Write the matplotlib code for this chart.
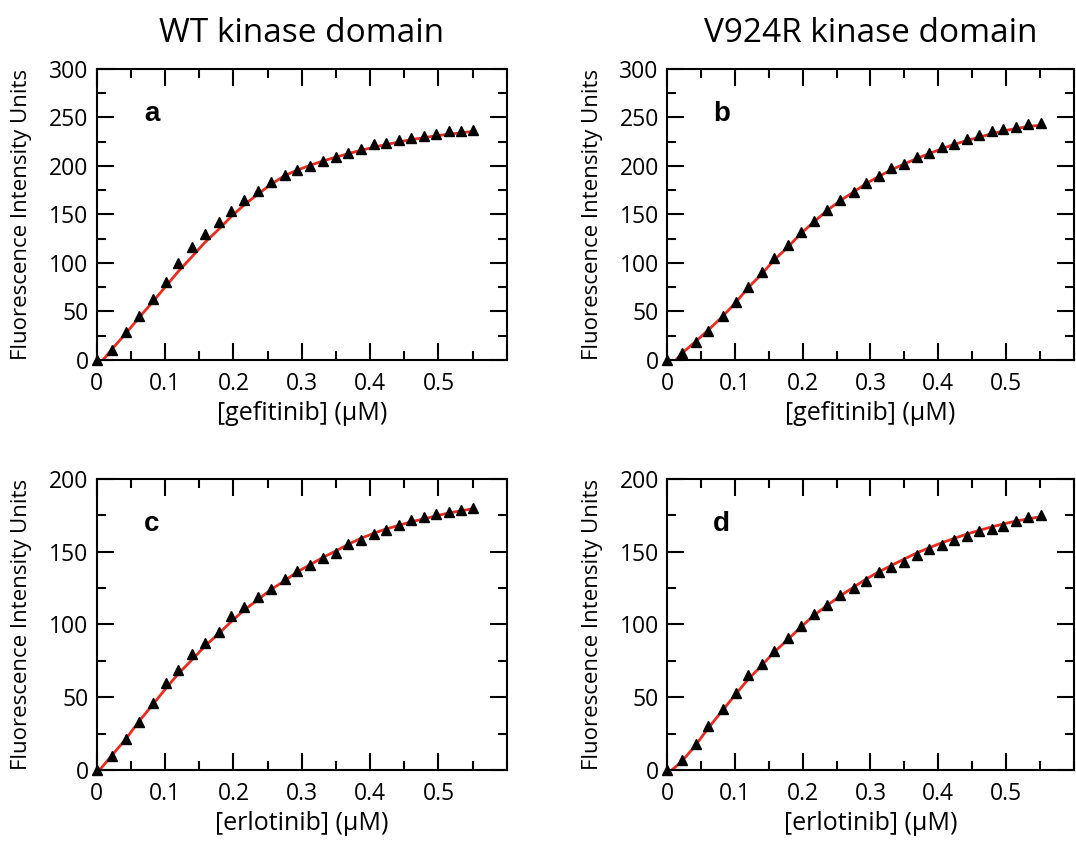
import matplotlib

matplotlib.use("Agg")
import matplotlib.pyplot as plt
from matplotlib.ticker import MultipleLocator

plt.rcParams["font.family"] = ["Open Sans", "DejaVu Sans"]

# inhibitor concentration (uM), same titration for all four panels
conc = [0.0, 0.022, 0.042, 0.061, 0.082, 0.101, 0.119, 0.140, 0.158, 0.179,
        0.197, 0.216, 0.236, 0.255, 0.275, 0.293, 0.312, 0.331, 0.350, 0.368,
        0.386, 0.405, 0.423, 0.442, 0.460, 0.479, 0.496, 0.515, 0.533, 0.551]

# measured fluorescence
wt_gef = [0, 10, 29, 45, 63, 80, 100, 116, 130, 142, 153, 165, 174, 183, 191,
          196, 200, 205, 209, 213, 217, 222, 224, 227, 229, 231, 233, 236, 236, 237]
v924r_gef = [0, 7, 18, 30, 45, 60, 75, 91, 105, 118, 132, 143, 155, 165, 173,
             182, 190, 198, 202, 209, 213, 219, 223, 228, 232, 236, 238, 240, 243, 244]
wt_erl = [0, 9.6, 21, 33, 46, 60, 69, 80, 87, 95, 105.5, 112, 119, 124.5, 131,
          136.5, 141, 145.6, 149, 155, 158, 162, 164.7, 168, 171.6, 174, 176, 177.5, 178.4, 180]
v924r_erl = [0, 6.9, 18, 30, 42, 53, 65, 73, 82, 90.6, 99, 107, 113.5, 120, 125,
             130, 136, 139.4, 143, 148, 152, 154.6, 158, 160.5, 164, 165.6, 167.4, 171, 174, 174.8]

# fitted curves (first x is where each fit starts at zero)
fit_start = [0.009, 0.013, 0.004, 0.007]
fit_wt_gef = [0, 11, 27, 43, 60, 76, 91, 107, 121, 135, 148, 160, 171, 181, 190,
              195.5, 200.5, 205, 209, 212.5, 216, 219, 222, 224.5, 227, 229, 231, 232.5, 234, 235.5]
fit_v924r_gef = [0, 7, 19, 31, 45, 59, 74, 89, 103, 117, 130, 142, 154, 164, 173,
                 181.5, 189, 196, 202, 207.5, 212.5, 217.5, 222, 226, 229.5, 233, 236, 238.5, 240.5, 242]
fit_wt_erl = [0, 10, 21, 33, 45, 56, 66, 76, 85, 94, 102, 110, 117, 124, 130,
              136, 141, 146, 150.5, 155, 159, 162.5, 165.5, 168, 170.5, 172.5, 174.5, 176.5, 178, 179.5]
fit_v924r_erl = [0, 6, 17, 29, 41, 52, 62, 72, 81, 90, 98, 106, 113, 119.5, 125.5,
                 131, 136, 140.5, 145, 149, 152.5, 156, 159, 162, 164.5, 167, 169, 171, 172.5, 174]

titles = ["WT kinase domain", "V924R kinase domain"]
letters = ["a", "b", "c", "d"]
xlabels = ["[gefitinib] (\u03bcM)", "[gefitinib] (\u03bcM)",
           "[erlotinib] (\u03bcM)", "[erlotinib] (\u03bcM)"]
ylims = [300, 300, 200, 200]
ylabel = "Fluorescence Intensity Units"

data = [wt_gef, v924r_gef, wt_erl, v924r_erl]
fits = [fit_wt_gef, fit_v924r_gef, fit_wt_erl, fit_v924r_erl]

fig = plt.figure(figsize=(10.76, 8.44), dpi=100)
boxes = [
    [0.090, 0.5735, 0.381, 0.345],
    [0.620, 0.5735, 0.378, 0.345],
    [0.090, 0.0877, 0.381, 0.345],
    [0.620, 0.0877, 0.378, 0.345],
]

for i, box in enumerate(boxes):
    ax = fig.add_axes(box)
    fx = [fit_start[i]] + conc[1:]
    ax.plot(fx, fits[i], color="#ee2a1c", lw=2, zorder=2)
    ax.plot(conc, data[i], "^", color="black", ms=7, zorder=3, clip_on=False)

    ax.set_xlim(0, 0.6)
    ax.set_ylim(0, ylims[i])
    ax.set_xticks([0, 0.1, 0.2, 0.3, 0.4, 0.5])
    ax.set_xticklabels(["0", "0.1", "0.2", "0.3", "0.4", "0.5"])
    ax.xaxis.set_minor_locator(MultipleLocator(0.05))
    ax.yaxis.set_major_locator(MultipleLocator(50))
    ax.yaxis.set_minor_locator(MultipleLocator(25))
    ax.tick_params(which="both", direction="in", top=True, right=True,
                   width=1.5, labelsize=16.5)
    ax.tick_params(axis="x", which="major", pad=9)
    ax.tick_params(axis="y", which="major", pad=6)
    ax.tick_params(which="major", length=12)
    ax.tick_params(which="minor", length=6.5)
    for s in ax.spines.values():
        s.set_linewidth(1.5)

    ax.set_xlabel(xlabels[i], fontsize=18)
    ax.xaxis.set_label_coords(0.5, -0.14)
    ax.set_ylabel(ylabel, fontsize=16)
    ax.yaxis.set_label_coords(-0.158, 0.5)
    ax.text(0.134, 0.845, letters[i], transform=ax.transAxes, fontsize=20,
            fontweight="bold", family="Liberation Sans", ha="center", va="center")
    if i < 2:
        ax.set_title(titles[i], fontsize=24, pad=19)

fig.savefig("out.png", dpi=100)
